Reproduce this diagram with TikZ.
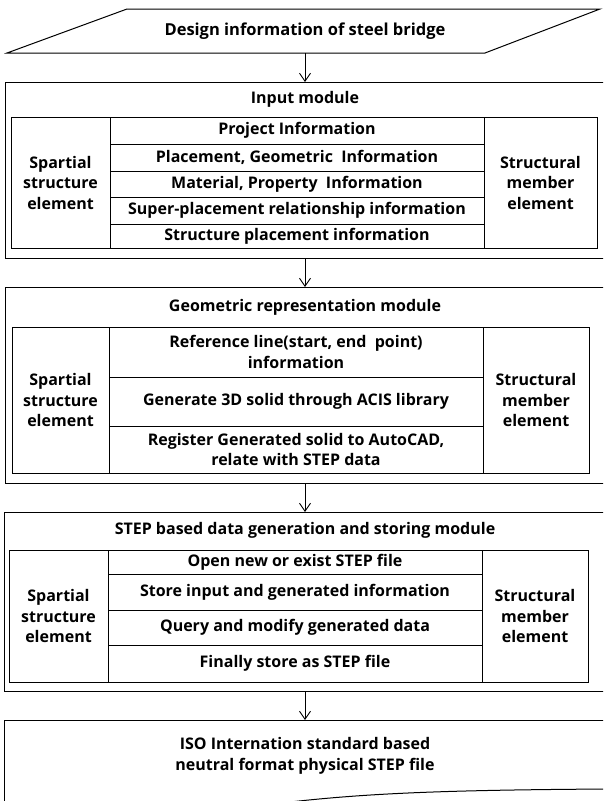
\documentclass[tikz,border=0pt]{standalone}
\usepackage{fontspec}
\setmainfont{Open Sans}
\usetikzlibrary{arrows.meta}
\tikzset{
  lbl/.style={font=\bfseries\fontsize{16}{20.5}\selectfont, align=center, inner sep=0pt, outer sep=0pt},
  cell/.style={lbl, draw, line width=1pt},
  frame/.style={draw, line width=1pt, inner sep=0pt, outer sep=0pt},
  flow/.style={line width=0.9pt, -{Straight Barb[length=8pt,width=11pt,line width=0.9pt]}}
}
\begin{document}
\begin{tikzpicture}[x=1pt,y=-1pt]
\useasboundingbox (0,0) rectangle (603,801);
\clip (0,0) rectangle (603,801);
% top parallelogram
\coordinate (p1) at (7,53);
\coordinate (p2) at (127,9);
\coordinate (p3) at (600,9);
\coordinate (p4) at (485,53);
\draw[line width=1pt] (p1) -- (p2) -- (p3) -- (p4) -- cycle;
\node[lbl, font=\bfseries\fontsize{16.5}{20.5}\selectfont, minimum height=44pt, minimum width=300pt] (design) at (305,31) {Design information of steel bridge};
% input module
\node[frame, minimum width=601pt, minimum height=176pt] (inputmod) at (305.5,170) {};
\node[lbl] (inputtitle) at (305,99) {Input module};
\node[cell, minimum width=99pt, minimum height=131pt] (inL) at (60.5,182.5) {Spartial\\structure\\element};
\node[cell, minimum width=113pt, minimum height=131pt] (inR) at (540.5,182.5) {Structural\\member\\element};
\node[cell, minimum width=374pt, minimum height=27pt] (in1) at (297,130.5) {Project Information};
\node[cell, minimum width=374pt, minimum height=27pt] (in2) at (297,157.5) {Placement, Geometric\ \ Information};
\node[cell, minimum width=374pt, minimum height=26pt] (in3) at (297,184) {Material, Property\ \ Information};
\node[cell, minimum width=374pt, minimum height=27pt] (in4) at (297,210.5) {Super-placement relationship information};
\node[cell, minimum width=374pt, minimum height=24pt] (in5) at (297,236) {Structure placement information};
% geometric module
\node[frame, minimum width=601pt, minimum height=196pt] (geomod) at (305.5,385) {};
\node[lbl] (geotitle) at (305,307) {Geometric representation module};
\node[cell, minimum width=97pt, minimum height=146pt] (geL) at (60.5,400) {Spartial\\structure\\element};
\node[cell, minimum width=106pt, minimum height=146pt] (geR) at (536,400) {Structural\\member\\element};
\node[cell, minimum width=374pt, minimum height=50pt] (ge1) at (296,352) {Reference line(start, end\ \ point)\\information};
\node[cell, minimum width=374pt, minimum height=49pt] (ge2) at (296,401.5) {Generate 3D solid through ACIS library};
\node[cell, minimum width=374pt, minimum height=47pt] (ge3) at (296,449.5) {Register Generated solid to AutoCAD,\\relate with STEP data};
% STEP module
\node[frame, minimum width=602pt, minimum height=179pt] (stepmod) at (305,601.5) {};
\node[lbl] (steptitle) at (305,530) {STEP based data generation and storing module};
\node[cell, minimum width=99pt, minimum height=132pt] (stL) at (58.5,616) {Spartial\\structure\\element};
\node[cell, minimum width=106pt, minimum height=132pt] (stR) at (535,616) {Structural\\member\\element};
\node[cell, minimum width=374pt, minimum height=24pt] (st1) at (295,562) {Open new or exist STEP file};
\node[cell, minimum width=374pt, minimum height=36pt] (st2) at (295,592) {Store input and generated information};
\node[cell, minimum width=374pt, minimum height=35pt] (st3) at (295,627.5) {Query and modify generated data};
\node[cell, minimum width=374pt, minimum height=37pt] (st4) at (295,663.5) {Finally store as STEP file};
% final document
\coordinate (d1) at (608,720);
\coordinate (d2) at (4,720);
\coordinate (d3) at (4,806);
\coordinate (d4) at (290,802);
\coordinate (d5) at (608,789);
\draw[line width=1pt] (d1) -- (d2) -- (d3);
\draw[line width=1pt] (d4) .. controls (370,793) and (450,790) .. (d5);
\node[lbl, minimum width=300pt, minimum height=64pt] (isofile) at (305,756) {ISO Internation standard based\\neutral format physical STEP file};
% arrows
\draw[flow] (design.south) -- (inputmod.north -| design.south);
\draw[flow] (inputmod.south -| design.south) -- (geomod.north -| design.south);
\draw[flow] (geomod.south -| design.south) -- (stepmod.north -| design.south);
\draw[flow] (stepmod.south -| design.south) -- (d2 -| design.south);
\end{tikzpicture}
\end{document}
